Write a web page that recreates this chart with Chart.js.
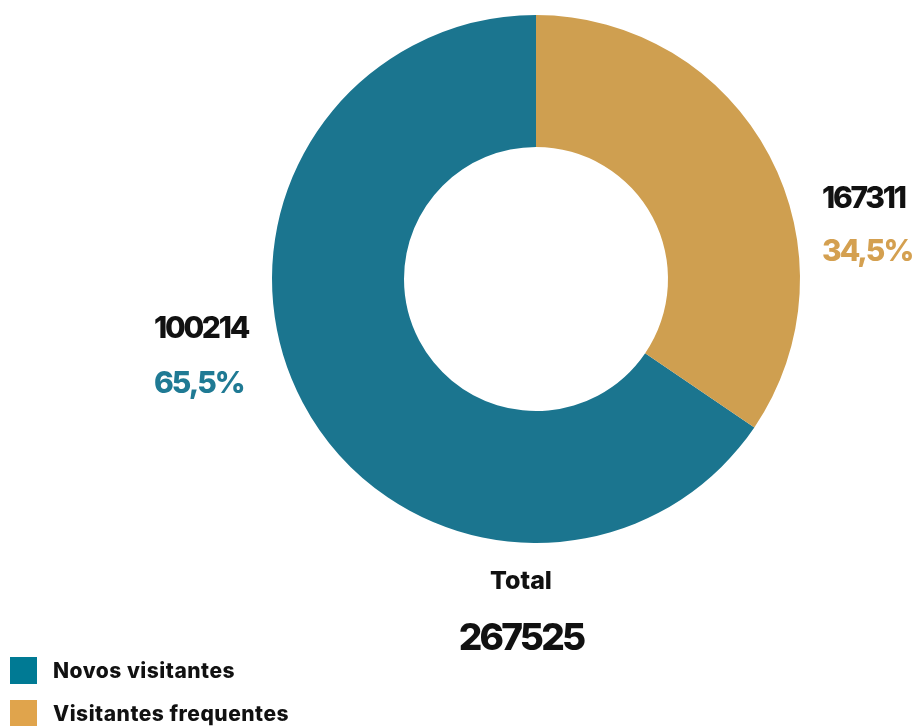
<!DOCTYPE html>
<html>
<head>
<meta charset="utf-8">
<script src="https://cdn.jsdelivr.net/npm/chart.js@4"></script>
<style>
  html, body { margin: 0; padding: 0; background: #fff; }
  #wrap { position: relative; width: 914px; height: 726px; overflow: hidden; }
  #c { position: absolute; left: 0; top: 0; }
  .t { position: absolute; font-family: Inter, sans-serif; font-weight: 800; white-space: nowrap; line-height: 1; }
  .lg { position: absolute; left: 10px; display: flex; align-items: center; }
  .lg .box { width: 27px; height: 27px; margin-right: 16px; }
  .lg .txt { font-family: Inter, sans-serif; font-weight: 800; font-size: 21px; color: #111; letter-spacing: 0.5px; }
</style>
</head>
<body>
<div id="wrap">
  <canvas id="c" width="914" height="726"></canvas>
</div>
<script>
const categories = ['Novos visitantes', 'Visitantes frequentes'];
const percentValues = [65.5, 34.5];
const countLabels = ['100214', '167311'];
const percentLabels = ['65,5%', '34,5%'];
const totalLabel = 'Total';
const totalValue = '267525';

const sliceColors = ['#1b758f', '#cf9f50'];
const legendColors = ['#007a94', '#e0a44c'];
const textColors = ['#1f7a94', '#d4a050'];

const wrap = document.getElementById('wrap');

new Chart(document.getElementById('c'), {
  type: 'doughnut',
  data: {
    labels: categories,
    datasets: [{
      data: percentValues,
      backgroundColor: sliceColors,
      borderWidth: 0
    }]
  },
  options: {
    responsive: false,
    animation: false,
    cutout: '50%',
    rotation: percentValues[1] / 100 * 360,
    layout: { padding: { left: 272, right: 114, top: 15, bottom: 183 } },
    plugins: { legend: { display: false }, tooltip: { enabled: false } }
  }
});

function addText(txt, x, y, size, color, center, ls) {
  const d = document.createElement('div');
  d.className = 't';
  d.textContent = txt;
  d.style.left = x + 'px';
  d.style.top = y + 'px';
  d.style.fontSize = size + 'px';
  d.style.color = color;
  d.style.letterSpacing = ls + 'px';
  if (center) d.style.transform = 'translateX(-50%)';
  wrap.appendChild(d);
}

addText(countLabels[0], 154, 312, 30, '#111', false, -2.3);
addText(percentLabels[0], 154, 367, 30, textColors[0], false, -2);
addText(countLabels[1], 822, 182, 30, '#111', false, -2.3);
addText(percentLabels[1], 822, 235, 30, textColors[1], false, -2);
addText(totalLabel, 521, 568, 25, '#111', true, 0);
addText(totalValue, 521, 618, 37, '#111', true, -2.8);

categories.forEach((c, i) => {
  const row = document.createElement('div');
  row.className = 'lg';
  row.style.top = (657 + i * 43) + 'px';
  const b = document.createElement('div');
  b.className = 'box';
  b.style.background = legendColors[i];
  const t = document.createElement('div');
  t.className = 'txt';
  t.textContent = c;
  row.appendChild(b);
  row.appendChild(t);
  wrap.appendChild(row);
});
</script>
</body>
</html>
